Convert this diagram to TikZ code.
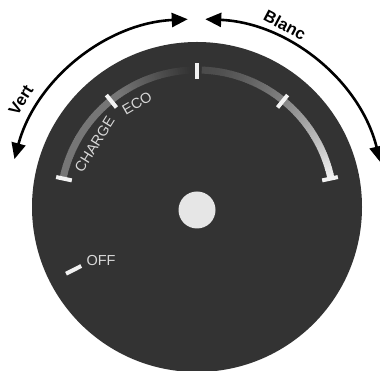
\documentclass[tikz,border=0pt]{standalone}
\usepackage{fontspec}
\setmainfont{Liberation Sans}
\usetikzlibrary{arrows.meta}
\definecolor{dialc}{HTML}{333333}
\definecolor{bandc}{HTML}{767676}
\definecolor{tickc}{HTML}{F2F2F2}
\definecolor{labc}{HTML}{D8D8D8}
\definecolor{dotc}{HTML}{E6E6E6}
\begin{document}
\begin{tikzpicture}[x=1pt,y=1pt,
  arcarrow/.style={line width=2.6pt, arrows={Triangle[length=16pt,width=14pt]-Triangle[length=16pt,width=14pt]}},
  tickmark/.style={line width=4pt, color=tickc},
  diallabel/.style={text=labc, font=\fontsize{14.5}{14.5}\selectfont, inner sep=0pt},
  rangelabel/.style={font=\bfseries\fontsize{16.5}{16.5}\selectfont, inner sep=0pt}]
% coordinates: x = pixel x, y = 371 - pixel y
\useasboundingbox (0,0) rectangle (380,371);
\fill[white] (0,0) rectangle (380,371);
\coordinate (c) at (197,164);
\fill[dialc] (c) circle[radius=165];
\begin{scope}[shift={(c)}]
  % left band
  \foreach \a in {168,167,...,93} {
    \pgfmathsetmacro\p{\a>=125 ? 100 : max(0,100*(\a-93)/32)}
    \draw[line width=7pt, color=bandc!\p!dialc] (\a:137) arc[start angle=\a, end angle=\a-1.3, radius=137];
  }
  % right band
  \foreach \a in {88,87,...,13} {
    \pgfmathsetmacro\p{12+83*((88-\a)/76)^1.5}
    \draw[line width=7pt, color=white!\p!dialc] (\a:137) arc[start angle=\a, end angle=\a-1.3, radius=137];
  }
  \foreach \a in {168,129,90,51,12}
    \draw[tickmark] (\a:128) -- (\a:144);
  \draw[tickmark] (207:130) -- (207:147);
  \node[diallabel, rotate=58] (charge) at (148.5:120) {CHARGE};
  \node[diallabel, rotate=30] (eco) at (120:120) {ECO};
\end{scope}
\node[diallabel] (off) at (101,110) {OFF};
\node[circle, fill=dotc, minimum size=37pt, inner sep=0pt] (hub) at (197,161) {};
% range arrows
\coordinate (ac) at (197,163);
\coordinate (vstart) at ([shift={(165:189)}]ac);
\coordinate (bstart) at ([shift={(87.5:189)}]ac);
\draw[arcarrow] (vstart) arc[start angle=165, end angle=92.8, radius=189];
\draw[arcarrow] (bstart) arc[start angle=87.5, end angle=14, radius=189];
\node[rangelabel, rotate=58] (vert) at (21,271) {Vert};
\node[rangelabel, rotate=-28] (blanc) at (285,346) {Blanc};
\end{tikzpicture}
\end{document}
